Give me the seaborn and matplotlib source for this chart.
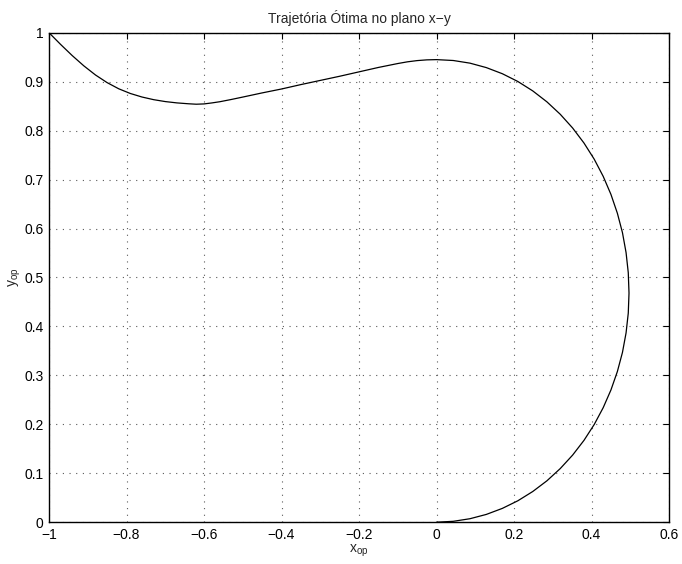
import matplotlib
matplotlib.use("Agg")
import matplotlib.pyplot as plt
import seaborn as sns
import pandas as pd

# Optimal trajectory in the x-y plane (from (-1, 1) down to the origin)
x_op = [-1.0, -0.97, -0.94, -0.91, -0.88, -0.85, -0.82, -0.79, -0.76, -0.73,
        -0.70, -0.67, -0.64, -0.62, -0.60, -0.58, -0.559, -0.53, -0.5, -0.45,
        -0.4, -0.35, -0.3, -0.25, -0.2, -0.15, -0.1, -0.075, -0.05, -0.025,
        0.0, 0.0433, 0.0863, 0.1286, 0.1699, 0.2100, 0.2484, 0.2850, 0.3193, 0.3513,
        0.3806, 0.4070, 0.4302, 0.4502, 0.4668, 0.4799, 0.4892, 0.4949, 0.4968, 0.4949,
        0.4892, 0.4799, 0.4668, 0.4502, 0.4302, 0.4070, 0.3806, 0.3513, 0.3193, 0.2850,
        0.2484, 0.2100, 0.1699, 0.1286, 0.0863, 0.0433, 0.0]
y_op = [1.0, 0.976, 0.9532, 0.9322, 0.9136, 0.898, 0.8854, 0.8758, 0.8686, 0.8632,
        0.8593, 0.8566, 0.8548, 0.8539, 0.8545, 0.8565, 0.859, 0.8635, 0.8685, 0.877,
        0.885, 0.894, 0.9025, 0.911, 0.920, 0.929, 0.937, 0.9405, 0.943, 0.9445,
        0.945, 0.9432, 0.9378, 0.9287, 0.9162, 0.9003, 0.8811, 0.8587, 0.8334, 0.8053,
        0.7746, 0.7416, 0.7065, 0.6696, 0.6311, 0.5915, 0.5508, 0.5096, 0.468, 0.4272,
        0.3867, 0.3469, 0.3079, 0.2702, 0.234, 0.1996, 0.1672, 0.1371, 0.1095, 0.0846,
        0.0627, 0.0438, 0.0282, 0.0159, 0.0071, 0.0018, 0.0]

x_ticks = [-1, -0.8, -0.6, -0.4, -0.2, 0, 0.2, 0.4, 0.6]
y_ticks = [0, 0.1, 0.2, 0.3, 0.4, 0.5, 0.6, 0.7, 0.8, 0.9, 1]
x_tick_labels = ["\u22121", "\u22120.8", "\u22120.6", "\u22120.4", "\u22120.2",
                 "0", "0.2", "0.4", "0.6"]
y_tick_labels = ["0", "0.1", "0.2", "0.3", "0.4", "0.5", "0.6", "0.7", "0.8",
                 "0.9", "1"]

title = "Trajetória Ótima no plano x\u2212y"

sns.set_style("white")
plt.rcParams["font.family"] = ["Liberation Sans", "DejaVu Sans"]
plt.rcParams["mathtext.fontset"] = "custom"
plt.rcParams["mathtext.rm"] = "Liberation Sans"

df = pd.DataFrame({"x": x_op, "y": y_op})

fig = plt.figure(figsize=(6.82, 5.64), dpi=100)
ax = fig.add_axes([49 / 682, 1 - 522.2 / 564, 620 / 682, 489.5 / 564])

sns.lineplot(data=df, x="x", y="y", sort=False, estimator=None,
             color="black", linewidth=0.9, ax=ax)
for line in ax.get_lines():
    line.set_solid_joinstyle("round")

ax.set_xlim(-1, 0.6)
ax.set_ylim(0, 1)
ax.set_xticks(x_ticks)
ax.set_xticklabels(x_tick_labels)
ax.set_yticks(y_ticks)
ax.set_yticklabels(y_tick_labels)

ax.grid(True, color="0.35", linestyle=(0, (1, 5)), linewidth=0.8)
ax.tick_params(direction="in", length=4, width=0.8, top=True, right=True,
               labelsize=10, pad=4, colors="black")
for side in ax.spines.values():
    side.set_visible(True)
    side.set_color("black")
    side.set_linewidth(1.0)

ax.set_title(title, fontsize=10, pad=7)
ax.set_xlabel(r"x$_{\mathregular{op}}$", fontsize=10, labelpad=1)
ax.set_ylabel(r"y$_{\mathregular{op}}$", fontsize=10, labelpad=1)

fig.savefig("out.png", dpi=100)
